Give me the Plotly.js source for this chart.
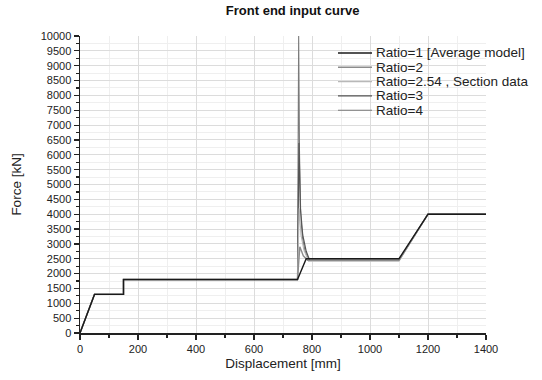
<!DOCTYPE html>
<html><head><meta charset="utf-8">
<script src="https://cdn.plot.ly/plotly-3.0.1.min.js"></script>
<style>html,body{margin:0;padding:0;background:#fff}#c{width:542px;height:380px}</style>
</head><body><div id="c"></div>
<script>
const names = ["Ratio=1 [Average model]", "Ratio=2", "Ratio=2.54 , Section data", "Ratio=3", "Ratio=4"];
const colors = ["#1a1a1a", "#8c8c8c", "#b8b8b8", "#555555", "#7a7a7a"];
const widths = [1.4, 1.4, 1.1, 1.2, 1.1];

const x1 = [0, 50, 150, 150, 750, 780, 1100, 1200, 1400];
const y1 = [0, 1300, 1300, 1800, 1800, 2500, 2500, 4000, 4000];

const x2 = [0, 50, 150, 150, 750, 758, 770, 785, 1100, 1200, 1400];
const y2 = [0, 1300, 1300, 1800, 1800, 2900, 2600, 2450, 2450, 4000, 4000];

const x254 = [0, 50, 150, 150, 750, 756, 762, 772, 788, 1100, 1200, 1400];
const y254 = [0, 1300, 1300, 1800, 1800, 4200, 3300, 2800, 2420, 2420, 4000, 4000];

const x3 = [0, 50, 150, 150, 750, 755, 760, 768, 780, 792, 1100, 1200, 1400];
const y3 = [0, 1300, 1300, 1800, 1800, 6400, 4200, 3300, 2750, 2450, 2450, 4000, 4000];

const x4 = [0, 50, 150, 150, 750, 754, 757, 761, 767, 776, 790, 1100, 1200, 1400];
const y4 = [0, 1300, 1300, 1800, 1800, 10000, 6000, 4000, 3200, 2750, 2450, 2450, 4000, 4000];

const xs = [x1, x2, x254, x3, x4];
const ys = [y1, y2, y254, y3, y4];

const order = [4, 3, 2, 1, 0];
const traces = order.map(i => ({
  x: xs[i], y: ys[i], name: names[i], type: "scatter", mode: "lines",
  line: {color: colors[i], width: widths[i]}, showlegend: false
}));

// manual compact legend (paper coordinates derived from pixel layout)
const L = 80, W = 406, B = 333, H = 297;
const px = v => (v - L) / W;
const py = v => (B - v) / H;
const legRows = [53, 67.3, 81.6, 95.9, 110.2];
const shapes = [], annotations = [];
names.forEach((n, i) => {
  shapes.push({type: "line", xref: "paper", yref: "paper", x0: px(338), x1: px(372),
    y0: py(legRows[i]), y1: py(legRows[i]), line: {color: colors[i], width: widths[i]}});
  annotations.push({xref: "paper", yref: "paper", x: px(374), y: py(legRows[i]), xanchor: "left",
    yanchor: "middle", text: n, showarrow: false, font: {size: 13.5, color: "#222"}});
});

const layout = {
  width: 542, height: 380,
  margin: {l: 80, r: 56, t: 36, b: 47},
  paper_bgcolor: "#fff", plot_bgcolor: "#fff",
  font: {family: "Liberation Sans, Arial, sans-serif", size: 11, color: "#222"},
  title: {text: "<b>Front end input curve</b>", x: 0.54, xanchor: "center", y: 0.985, yanchor: "top",
          font: {size: 13, color: "#111"}},
  showlegend: false,
  shapes: shapes, annotations: annotations,
  xaxis: {
    range: [0, 1400], tick0: 0, dtick: 200, showline: true, linecolor: "#222", linewidth: 1.5,
    ticks: "outside", ticklen: 5, tickwidth: 1.2, tickcolor: "#222", tickformat: "d",
    showgrid: true, gridcolor: "#dcdcdc", gridwidth: 1, zeroline: false,
    minor: {dtick: 100, ticks: "outside", ticklen: 3, tickcolor: "#222", showgrid: true, gridcolor: "#efefef"},
    title: {text: "Displacement [mm]", font: {size: 13.5, color: "#222"}, standoff: 5},
    tickfont: {size: 11, color: "#222"}
  },
  yaxis: {
    range: [0, 10000], tick0: 0, dtick: 500, showline: true, linecolor: "#222", linewidth: 1.5,
    ticks: "outside", ticklen: 5, tickwidth: 1.2, tickcolor: "#222", tickformat: "d",
    showgrid: true, gridcolor: "#dcdcdc", gridwidth: 1, zeroline: false,
    minor: {dtick: 250, ticks: "outside", ticklen: 3, tickcolor: "#222", showgrid: true, gridcolor: "#efefef"},
    title: {text: "Force [kN]", font: {size: 13.5, color: "#222"}, standoff: 16},
    tickfont: {size: 11, color: "#222"}
  }
};
Plotly.newPlot("c", traces, layout, {displayModeBar: false, staticPlot: true});
</script></body></html>
